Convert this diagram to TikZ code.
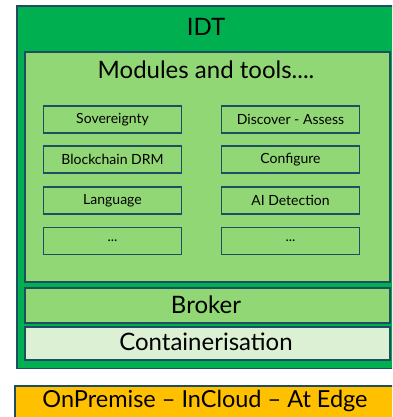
\documentclass[tikz,border=0pt]{standalone}
\usepackage{fontspec}
\setmainfont{Lato}
\definecolor{idtgreen}{HTML}{00B050}
\definecolor{modgreen}{HTML}{92D775}
\definecolor{contgreen}{HTML}{DCF0D4}
\definecolor{edgeblue}{HTML}{1F4E63}
\definecolor{hostorange}{HTML}{FFC000}
\begin{document}
\begin{tikzpicture}[x=1pt,y=-1pt,
	panel/.style={draw=edgeblue,line width=1.6pt,anchor=north west,inner sep=0pt},
	openpanel/.style={anchor=north west,inner sep=0pt},
	rim/.style={draw=edgeblue,line width=1.6pt},
	modbox/.style={draw=edgeblue,line width=1.6pt,fill=modgreen,minimum width=138pt,minimum height=27pt,inner sep=0pt,font=\fontsize{14}{16}\selectfont},
	bigtext/.style={font=\fontsize{24}{28}\selectfont,inner sep=0pt}]
	\useasboundingbox (0,0) rectangle (392,417);
	\clip (0,0) rectangle (392,417);
	% IDT frame, runs off the right side
	\node[openpanel,fill=idtgreen,minimum width=420pt,minimum height=362pt] (idt) at (17,6) {};
	\draw[rim] (idt.north east) -- (idt.north west) -- (idt.south west) -- (idt.south east);
	\node[bigtext] (idtlabel) at (206,27) {IDT};
	% modules and tools
	\node[panel,fill=modgreen,minimum width=365pt,minimum height=230pt] (modules) at (24,51) {};
	\node[bigtext] (modlabel) at (206,70) {Modules and tools....};
	\node[modbox] (sov) at (112.5,119.5) {Sovereignty};
	\node[modbox] (drm) at (112.5,159.5) {Blockchain DRM};
	\node[modbox] (lang) at (112.5,200.5) {Language};
	\node[modbox] (more1) at (112.5,241) {...};
	\node[modbox] (disc) at (290.5,119.5) {Discover - Assess};
	\node[modbox] (conf) at (290.5,159.5) {Configure};
	\node[modbox] (aidet) at (290.5,200.5) {AI Detection};
	\node[modbox] (more2) at (290.5,241) {...};
	% broker and containers
	\node[panel,fill=modgreen,minimum width=365pt,minimum height=35pt] (broker) at (24,287) {};
	\node[bigtext] (brokerlabel) at (206,305) {Broker};
	\node[panel,fill=contgreen,minimum width=365pt,minimum height=33pt] (cont) at (24,326) {};
	\node[bigtext] (contlabel) at (206,342) {Containerisation};
	% hosting, runs off the page
	\node[openpanel,fill=hostorange,minimum width=420pt,minimum height=50pt] (host) at (15,386) {};
	\draw[rim] (host.south west) -- (host.north west) -- (host.north east);
	\node[bigtext,font=\fontsize{23.5}{28}\selectfont] (hostlabel) at (205,401) {OnPremise -- InCloud -- At Edge};
\end{tikzpicture}
\end{document}
